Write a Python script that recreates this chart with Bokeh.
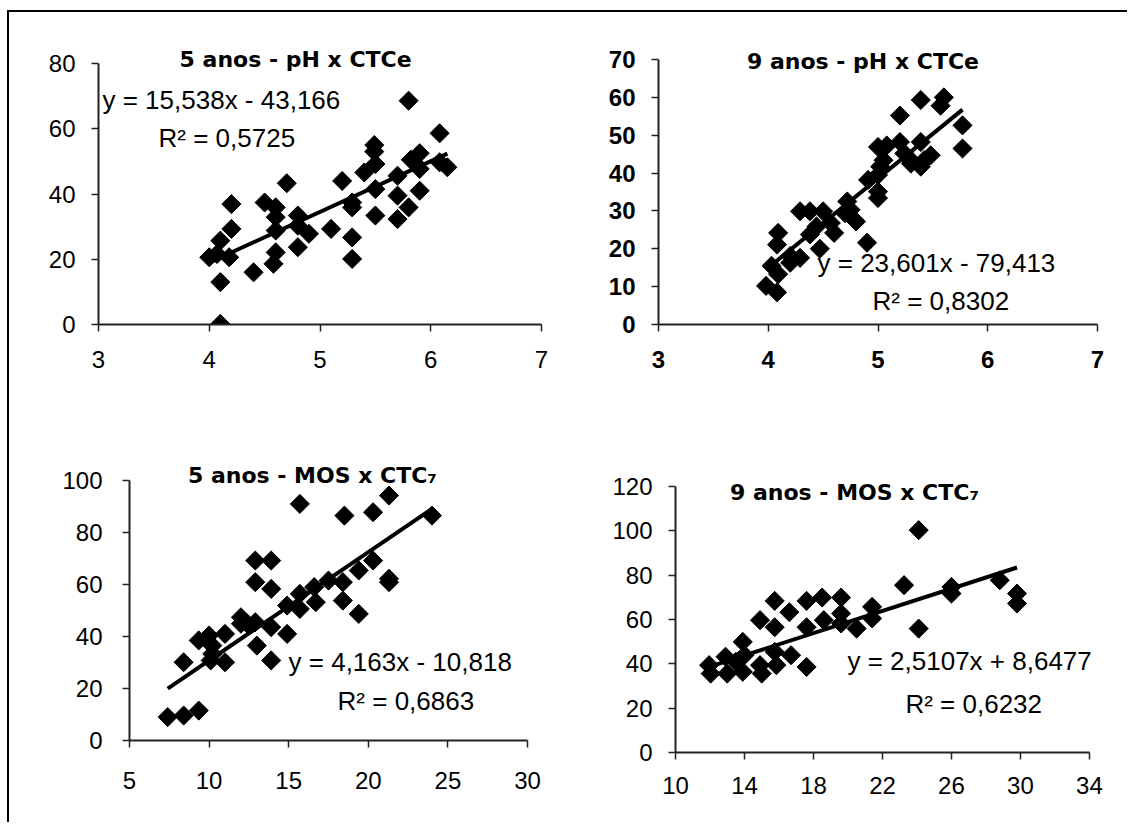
import math
from bokeh.plotting import figure
from bokeh.models import Range1d, FixedTicker, Label
from bokeh.layouts import column, row
from bokeh.embed import file_html
from bokeh.resources import INLINE

# ---------------- data ----------------
# Panel 1: 5 anos - pH x CTCe
ph_5 = [5.80, 6.08, 5.49, 5.49, 5.90, 5.82, 5.87, 6.15, 6.08, 5.90, 5.50, 5.40, 5.70,
        5.50, 5.70, 5.90, 5.80, 5.70, 5.50, 5.29, 5.29, 5.20, 5.29, 5.29, 5.10, 4.90,
        4.80, 4.80, 4.80, 4.70, 4.60, 4.50, 4.60, 4.60, 4.60, 4.58, 4.40, 4.20, 4.20,
        4.18, 4.10, 4.07, 4.00, 4.10, 4.10]
ctce_5 = [68.6, 58.6, 55.0, 53.0, 52.5, 50.5, 49.0, 48.2, 49.7, 47.7, 49.2, 46.6, 45.6,
          41.5, 39.5, 41.0, 35.9, 32.3, 33.4, 37.4, 35.9, 44.0, 26.7, 20.1, 29.3, 27.8,
          33.4, 30.3, 23.7, 43.3, 35.9, 37.4, 32.9, 28.8, 22.1, 18.6, 16.0, 36.9, 29.3,
          20.6, 25.7, 21.6, 20.6, 13.0, 0.2]
fit_5_ph = (15.538, -43.166)

# Panel 2: 9 anos - pH x CTCe
ph_9 = [5.39, 5.60, 5.57, 5.20, 5.77, 5.77, 5.00, 5.08, 5.20, 5.39, 5.48, 5.42, 5.30,
        5.24, 5.39, 5.30, 5.05, 5.02, 4.91, 5.00, 5.00, 5.00, 4.90, 4.72, 4.75, 4.80,
        4.70, 4.60, 4.57, 4.50, 4.44, 4.38, 4.29, 4.47, 4.38, 4.29, 4.20, 4.20, 4.09,
        4.08, 4.03, 4.09, 3.98, 4.08]
ctce_9 = [59.3, 60.0, 57.8, 55.2, 52.6, 46.5, 46.9, 47.3, 48.2, 48.2, 44.7, 43.4, 43.4,
          45.2, 41.7, 42.5, 43.4, 41.7, 38.2, 39.5, 35.1, 33.4, 21.6, 32.5, 30.3, 27.2,
          29.4, 24.2, 26.8, 29.9, 25.9, 29.9, 29.9, 20.0, 23.8, 17.6, 18.1, 16.3, 24.2,
          21.1, 15.5, 13.3, 10.2, 8.5]
fit_9_ph = (23.601, -79.413)

# Panel 3: 5 anos - MOS x CTC7
mos_5 = [7.4, 8.4, 9.35, 8.4, 9.35, 10.0, 10.2, 10.1, 10.2, 11.0, 11.0, 12.0, 12.0, 12.4,
         12.9, 12.9, 12.9, 13.0, 13.9, 13.9, 13.9, 13.9, 14.9, 14.9, 15.7, 15.7, 15.7,
         16.6, 16.7, 17.5, 18.4, 18.4, 18.5, 19.4, 19.4, 20.3, 20.3, 21.3, 21.3, 21.3, 24.0]
ctc7_5 = [9.0, 9.6, 11.5, 30.1, 38.5, 40.4, 36.5, 30.8, 33.3, 41.0, 30.1, 47.4, 44.9, 44.9,
          69.2, 60.9, 45.5, 36.5, 69.2, 58.3, 43.6, 30.8, 41.0, 51.9, 50.6, 56.4, 91.0,
          59.0, 53.2, 61.5, 60.9, 53.8, 86.5, 65.4, 48.7, 69.2, 87.8, 94.2, 62.2, 60.9, 86.5]
fit_5_mos = (4.163, -10.818)

# Panel 4: 9 anos - MOS x CTC7
mos_9 = [11.95, 12.04, 12.9, 13.0, 13.5, 13.9, 13.9, 14.0, 14.9, 14.9, 15.0, 15.75, 15.75,
         15.75, 15.85, 16.6, 16.7, 17.6, 17.6, 17.6, 18.5, 18.6, 19.6, 19.6, 19.6, 20.5,
         21.4, 21.4, 23.25, 24.1, 24.1, 26.0, 26.0, 28.8, 29.8, 29.8]
ctc7_9 = [39.4, 35.6, 43.2, 35.6, 40.9, 49.9, 36.4, 43.9, 59.7, 39.4, 35.6, 68.4, 56.5,
          45.4, 39.4, 63.3, 43.9, 68.4, 56.5, 38.6, 69.9, 59.7, 69.9, 62.7, 58.2, 55.9,
          65.7, 60.5, 75.5, 100.3, 55.9, 74.7, 71.7, 77.7, 71.7, 67.2]
fit_9_mos = (2.5107, 8.6477)

# ticks
x_ticks_ph = [3, 4, 5, 6, 7]
y_ticks_1 = [0, 20, 40, 60, 80]
y_ticks_2 = [0, 10, 20, 30, 40, 50, 60, 70]
x_ticks_3 = [5, 10, 15, 20, 25, 30]
y_ticks_3 = [0, 20, 40, 60, 80, 100]
x_ticks_4 = [10, 14, 18, 22, 26, 30, 34]
y_ticks_4 = [0, 20, 40, 60, 80, 100, 120]

titles = ["5 anos - pH x CTCe", "9 anos - pH x CTCe",
          "5 anos - MOS x CTC\u2087", "9 anos - MOS x CTC\u2087"]
equations = ["y = 15,538x - 43,166", "y = 23,601x - 79,413",
             "y = 4,163x - 10,818", "y = 2,5107x + 8,6477"]
r2_texts = ["R\u00b2 = 0,5725", "R\u00b2 = 0,8302", "R\u00b2 = 0,6863", "R\u00b2 = 0,6232"]

TICK_FONT = "Liberation Sans"
EQ_FONT = "Liberation Sans"
TITLE_FONT = "DejaVu Sans"


def panel(x, y, fit, xr, yr, xt, yt, title, eq, r2, title_xy, eq_xy, r2_xy,
          w, h, borders, x_standoff, y_standoff, bold_ticks=False):
    p = figure(width=w, height=h, x_range=Range1d(*xr), y_range=Range1d(*yr),
               output_backend="svg", toolbar_location=None, title=None,
               min_border_left=borders[0], min_border_right=borders[1],
               min_border_top=borders[2], min_border_bottom=borders[3])
    p.outline_line_color = None
    p.xgrid.visible = False
    p.ygrid.visible = False
    p.background_fill_color = "white"
    p.border_fill_color = "white"

    p.xaxis.ticker = FixedTicker(ticks=xt)
    p.yaxis.ticker = FixedTicker(ticks=yt)
    p.xaxis.bounds = (xt[0], xt[-1])
    p.yaxis.bounds = (yt[0], yt[-1])
    for ax in (p.xaxis[0], p.yaxis[0]):
        ax.axis_line_color = "#222222"
        ax.axis_line_width = 2
        ax.major_tick_line_color = "#222222"
        ax.major_tick_line_width = 1.5
        ax.major_tick_out = 7
        ax.major_tick_in = 0
        ax.minor_tick_out = 0
        ax.minor_tick_in = 0
        ax.major_label_text_font = TICK_FONT
        ax.major_label_text_font_size = "24px"
        ax.major_label_text_color = "black"
        if bold_ticks:
            ax.major_label_text_font_style = "bold"
    p.xaxis.major_label_standoff = x_standoff
    p.yaxis.major_label_standoff = y_standoff

    # trend line
    xs = [min(x), max(x)]
    ys = [fit[0] * v + fit[1] for v in xs]
    p.line(xs, ys, line_color="black", line_width=4)

    # points
    p.scatter(x, y, marker="square", angle=math.pi / 4, size=13.5,
              fill_color="black", line_color="black")

    p.add_layout(Label(x=title_xy[0], y=title_xy[1], text=title, text_font=TITLE_FONT,
                       text_font_size="22px", text_font_style="bold",
                       text_align="center", text_baseline="middle", text_color="black"))
    p.add_layout(Label(x=eq_xy[0], y=eq_xy[1], text=eq, text_font=EQ_FONT,
                       text_font_size="26px", text_align="left",
                       text_baseline="middle", text_color="black"))
    p.add_layout(Label(x=r2_xy[0], y=r2_xy[1], text=r2, text_font=EQ_FONT,
                       text_font_size="26px", text_align="left",
                       text_baseline="middle", text_color="black"))
    return p


# top row: frames share top (45) and bottom (324)
p1 = panel(ph_5, ctce_5, fit_5_ph, (3, 7), (0, 85.52), x_ticks_ph, y_ticks_1,
           titles[0], equations[0], r2_texts[0],
           (4.78, 81.2), (3.036, 68.7), (3.542, 57.3),
           564, 400, (89, 32, 33, 88), 19, 16)
p2 = panel(ph_9, ctce_9, fit_9_ph, (3, 7), (0, 73.7), x_ticks_ph, y_ticks_2,
           titles[1], equations[1], r2_texts[1],
           (4.863, 69.4), (4.449, 16.3), (4.95, 6.3),
           554, 400, (85, 30, 33, 88), 19, 16, bold_ticks=True)
# bottom row: p3 frame 458..740, p4 frame 458..752
p3 = panel(mos_5, ctc7_5, fit_5_mos, (5, 31.13), (0, 108.46), x_ticks_3, y_ticks_3,
           titles[2], equations[2], r2_texts[2],
           (16.49, 101.9), (14.99, 30.0), (18.07, 15.0),
           564, 410, (120, 28, 46, 82), 24, 20)
p4 = panel(mos_9, ctc7_9, fit_9_mos, (10, 35.22), (0, 132.63), x_ticks_4, y_ticks_4,
           titles[3], equations[3], r2_texts[3],
           (20.38, 117.3), (19.97, 41.5), (23.33, 22.1),
           554, 410, (102, 17, 46, 70), 17, 16)

layout = column(row(column(p1), column(p2), spacing=0),
                row(column(p3), column(p4), spacing=0), spacing=0,
                styles={"margin-left": "7px", "margin-top": "10px",
                        "border-top": "2px solid black",
                        "border-left": "2px solid black"})

open("out.html", "w").write(file_html(layout, INLINE))
